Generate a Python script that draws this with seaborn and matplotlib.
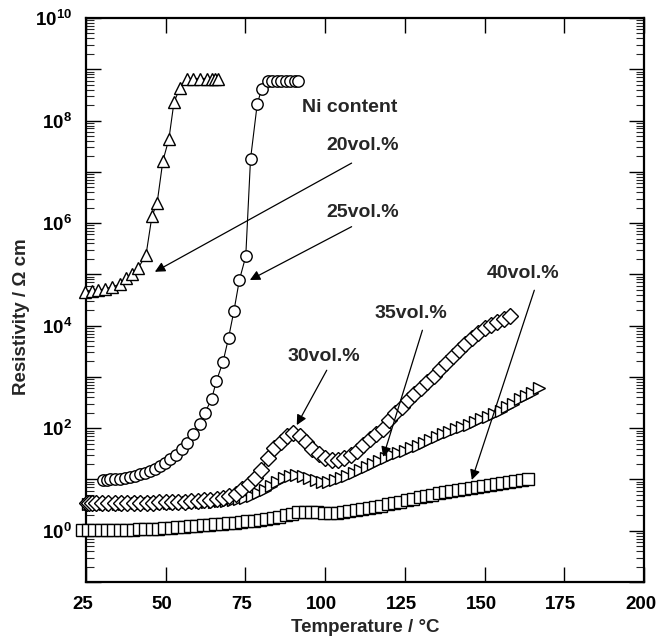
import numpy as np
import matplotlib
matplotlib.use("Agg")
import matplotlib.pyplot as plt
from matplotlib.ticker import LogLocator, FuncFormatter, NullFormatter, FixedLocator
from matplotlib.transforms import ScaledTranslation
import seaborn as sns

# ---------------- data (temperature in degC, log10 of resistivity in Ohm cm) -------------
# 20 vol.% Ni (triangles up)
t20 = [24.7, 26.8, 28.9, 31.0, 33.0, 35.7, 37.7, 39.3, 41.4, 43.8, 45.7, 47.3, 49.1,
       51.0, 52.6, 54.5, 56.6, 58.6, 60.7, 62.8, 64.4, 65.4, 66.4]
r20 = [4.66, 4.67, 4.69, 4.72, 4.75, 4.81, 4.92, 5.00, 5.13, 5.37, 6.14, 6.39, 7.21,
       7.64, 8.36, 8.64, 8.82, 8.82, 8.82, 8.82, 8.82, 8.82, 8.82]

# 25 vol.% Ni (circles)
t25 = [30.4, 31.5, 32.5, 34.1, 35.7, 37.2, 38.8, 40.4, 41.9, 43.5, 45.1, 46.6, 48.2,
       49.8, 51.3, 53.2, 55.0, 56.8, 58.6, 60.7, 62.3, 64.4, 65.9, 68.0, 69.7, 71.4,
       73.1, 75.1, 76.6, 78.7, 80.1, 82.0, 83.4, 84.8, 86.2, 87.6, 89.0, 90.4, 91.6]
r25 = [0.99, 0.99, 1.00, 1.00, 1.01, 1.03, 1.05, 1.07, 1.10, 1.13, 1.17, 1.21, 1.27,
       1.33, 1.39, 1.48, 1.60, 1.72, 1.89, 2.09, 2.30, 2.57, 2.92, 3.30, 3.76, 4.29,
       4.89, 5.35, 7.25, 8.32, 8.62, 8.78, 8.78, 8.78, 8.78, 8.78, 8.78, 8.78, 8.78]

# 30 vol.% Ni (diamonds)
t30 = [25.3, 26.0, 27.0, 28.2, 30, 32, 34, 36, 38, 40, 42, 44, 46, 48, 50, 52, 54, 56,
       58, 60, 62, 64, 66, 68, 70, 72, 74, 76, 78, 80, 82, 84, 86, 88, 90, 92, 94, 96,
       98, 100, 102, 104, 106, 108, 110, 112, 114, 116, 118, 120, 122, 124, 126, 128,
       130, 132, 134, 136, 138, 140, 142, 144, 146, 148, 150, 152, 154, 156, 158]
r30 = [0.54, 0.54, 0.54, 0.54, 0.54, 0.54, 0.54, 0.54, 0.54, 0.55, 0.55, 0.55, 0.55,
       0.56, 0.56, 0.56, 0.57, 0.57, 0.58, 0.58, 0.59, 0.60, 0.62, 0.64, 0.67, 0.72,
       0.81, 0.91, 1.02, 1.18, 1.42, 1.61, 1.74, 1.85, 1.90, 1.85, 1.73, 1.60, 1.50,
       1.42, 1.37, 1.38, 1.42, 1.48, 1.56, 1.68, 1.78, 1.88, 1.99, 2.15, 2.29, 2.41,
       2.54, 2.67, 2.79, 2.90, 3.01, 3.15, 3.28, 3.41, 3.53, 3.65, 3.76, 3.86, 3.96,
       4.01, 4.08, 4.13, 4.19]

# 35 vol.% Ni (triangles right)
t35 = [25.6, 26.4, 27.5, 29, 31, 33, 35, 37, 39, 41, 43, 45, 47, 49, 51, 53, 55, 57,
       59, 61, 63, 65, 67, 69, 71, 73, 75, 77, 79, 81, 83, 85, 87, 89, 91, 93, 95, 97,
       99, 101, 103, 105, 107, 109, 111, 113, 115, 117, 119, 121, 123, 125, 127, 129,
       131, 133, 135, 137, 139, 141, 143, 145, 147, 149, 151, 153, 155, 157, 159, 161,
       163, 165, 167]
r35 = [0.53, 0.53, 0.53, 0.53, 0.53, 0.53, 0.53, 0.53, 0.54, 0.54, 0.54, 0.54, 0.54,
       0.55, 0.55, 0.55, 0.55, 0.56, 0.56, 0.56, 0.57, 0.57, 0.58, 0.58, 0.59, 0.61,
       0.63, 0.67, 0.73, 0.80, 0.88, 0.96, 1.03, 1.07, 1.08, 1.06, 1.02, 0.98, 0.96,
       0.96, 0.98, 1.02, 1.07, 1.13, 1.18, 1.24, 1.30, 1.36, 1.42, 1.47, 1.52, 1.56,
       1.61, 1.66, 1.71, 1.76, 1.82, 1.88, 1.93, 1.98, 2.02, 2.07, 2.12, 2.17, 2.22,
       2.28, 2.34, 2.41, 2.48, 2.56, 2.62, 2.69, 2.78]

# 40 vol.% Ni (squares)
t40 = [23.6, 25.6, 27.6, 29.6, 31.6, 33.6, 35.6, 37.6, 39.6, 41.6, 43.6, 45.6, 47.6,
       49.6, 51.6, 53.6, 55.6, 57.6, 59.6, 61.6, 63.6, 65.6, 67.6, 69.6, 71.6, 73.6,
       75.6, 77.6, 79.6, 81.6, 83.6, 85.6, 87.6, 89.6, 91.6, 93.6, 95.6, 97.6, 99.6,
       101.6, 103.6, 105.6, 107.6, 109.6, 111.6, 113.6, 115.6, 117.6, 119.6, 121.6,
       123.6, 125.6, 127.6, 129.6, 131.6, 133.6, 135.6, 137.6, 139.6, 141.6, 143.6,
       145.6, 147.6, 149.6, 151.6, 153.6, 155.6, 157.6, 159.6, 161.6, 163.6]
r40 = [0.01, 0.01, 0.01, 0.01, 0.01, 0.02, 0.02, 0.02, 0.02, 0.03, 0.03, 0.04, 0.04,
       0.05, 0.06, 0.07, 0.08, 0.09, 0.10, 0.11, 0.12, 0.13, 0.14, 0.15, 0.16, 0.17,
       0.18, 0.19, 0.20, 0.22, 0.24, 0.27, 0.30, 0.33, 0.36, 0.37, 0.37, 0.36, 0.35,
       0.35, 0.35, 0.36, 0.38, 0.40, 0.42, 0.44, 0.46, 0.49, 0.52, 0.54, 0.56, 0.59,
       0.62, 0.65, 0.67, 0.70, 0.73, 0.76, 0.78, 0.80, 0.82, 0.84, 0.86, 0.88, 0.90,
       0.92, 0.94, 0.95, 0.97, 0.99, 1.01]

x_ticks = [25, 50, 75, 100, 125, 150, 175, 200]

# ---------------- style ----------------
sns.set_style("ticks")
plt.rcParams["font.family"] = ["Liberation Sans", "DejaVu Sans"]
plt.rcParams["font.weight"] = "bold"
plt.rcParams["mathtext.fontset"] = "custom"
plt.rcParams["mathtext.rm"] = "Liberation Sans:bold"
plt.rcParams["mathtext.bf"] = "Liberation Sans:bold"
plt.rcParams["mathtext.it"] = "Liberation Sans:bold"

fig = plt.figure(figsize=(6.57, 6.41), dpi=100)
ax = fig.add_axes([86 / 657, 1 - 582 / 641, (644 - 86) / 657, (582 - 18) / 641])

series = [
    (t40, r40, "s", 8.2),
    (t35, r35, ">", 8.6),
    (t30, r30, "D", 8.0),
    (t25, r25, "o", 8.2),
    (t20, r20, "^", 9.2),
]
for t, r, mk, ms in series:
    assert len(t) == len(r), (mk, len(t), len(r))
    sns.lineplot(x=t, y=10 ** np.asarray(r), ax=ax, estimator=None, sort=False,
                 color="black", linewidth=0.8, marker=mk, markersize=ms,
                 markerfacecolor="white", markeredgecolor="black",
                 markeredgewidth=1.0, clip_on=False, zorder=3)

ax.set_yscale("log")
ax.set_xlim(25, 200)
ax.set_ylim(1e-1, 1e10)

ax.xaxis.set_major_locator(FixedLocator(x_ticks))
ax.set_xticklabels([str(v) for v in x_ticks])
ax.yaxis.set_major_locator(LogLocator(base=10, numticks=30))
ax.yaxis.set_minor_locator(LogLocator(base=10, subs=np.arange(2, 10), numticks=30))
ax.yaxis.set_minor_formatter(NullFormatter())


def yfmt(v, pos):
    e = int(round(np.log10(v)))
    if e % 2 == 0 and 0 <= e <= 10:
        return r"$10^{%d}$" % e
    return ""


ax.yaxis.set_major_formatter(FuncFormatter(yfmt))

ax.tick_params(axis="both", which="major", direction="in", length=11, width=1.0,
               top=True, right=True, labelsize=13.5, pad=10, colors="black")
ax.tick_params(axis="y", which="minor", direction="in", length=5.5, width=0.8,
               left=True, right=True)
shift = ScaledTranslation(-3.5 / 100, 0, fig.dpi_scale_trans)
for lbl in ax.get_xticklabels():
    lbl.set_fontweight("bold")
    lbl.set_transform(lbl.get_transform() + shift)
for lbl in ax.get_yticklabels():
    lbl.set_fontweight("bold")
for s in ax.spines.values():
    s.set_linewidth(1.6)
    s.set_color("black")

ax.set_xlabel("Temperature / °C", fontsize=13.5, fontweight="bold")
ax.set_ylabel("Resistivity / Ω cm", fontsize=13.5, fontweight="bold")
ax.xaxis.set_label_coords(0.5, -0.066)
ax.yaxis.set_label_coords(-0.100, 0.47)

# ---------------- annotations ----------------
tkw = dict(fontsize=14, fontweight="bold", ha="left", va="center")
ax.text(92.6, 10 ** 8.26, "Ni content", **tkw)
ax.text(100.5, 10 ** 7.52, "20vol.%", **tkw)
ax.text(100.5, 10 ** 6.21, "25vol.%", **tkw)
ax.text(88.3, 10 ** 3.39, "30vol.%", **tkw)
ax.text(115.6, 10 ** 4.24, "35vol.%", **tkw)
ax.text(150.6, 10 ** 5.02, "40vol.%", **tkw)

akw = dict(arrowstyle="-|>", color="black", lw=0.9, mutation_scale=15,
           shrinkA=0, shrinkB=0)
arrows = [
    ((108.3, 7.17), (46.6, 5.05)),
    ((108.3, 5.93), (76.4, 4.89)),
    ((100.5, 3.13), (91.1, 2.06)),
    ((130.5, 3.91), (118.2, 1.44)),
    ((165.6, 4.69), (146.0, 0.99)),
]
for (x0, y0), (x1, y1) in arrows:
    ax.annotate("", xy=(x1, 10 ** y1), xytext=(x0, 10 ** y0), arrowprops=akw, zorder=5)

fig.savefig("out.png", dpi=100)
